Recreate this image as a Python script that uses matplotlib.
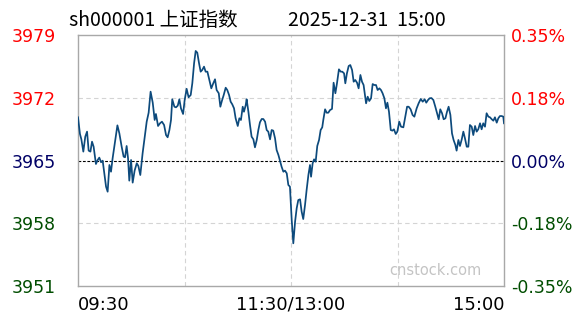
import matplotlib
matplotlib.use("Agg")
from matplotlib import pyplot as plt

# minutes since 09:30 (lunch break removed) and index level
minutes = [0, 1.1, 1.9, 3.0, 4.1, 5.1, 6.0, 7.0, 7.9, 8.8, 10.1, 11.1, 12.0, 13.0, 13.9, 14.8, 15.8, 16.7,
           17.7, 18.6, 19.5, 21.0, 22.2, 23.3, 24.6, 25.7, 26.5, 27.4, 28.2, 28.9, 29.9, 30.8, 31.9, 33.1,
           34.0, 35.1, 36.4, 37.6, 38.7, 39.8, 40.9, 42.1, 43.2, 43.9, 45.1, 46.2, 47.3, 48.5, 49.6, 50.5,
           51.5, 52.4, 53.1, 54.3, 55.2, 56.2, 57.1, 58.0, 59.2, 60.1, 61.2, 62.3, 63.5, 64.4, 65.4, 66.3,
           67.2, 68.2, 69.1, 70.0, 71.0, 71.9, 72.9, 74.0, 75.1, 76.2, 77.2, 78.1, 79.3, 80.2, 81.1, 82.1,
           83.2, 84.1, 85.1, 86.0, 86.9, 87.9, 88.8, 90.0, 90.9, 91.8, 92.8, 93.5, 94.5, 95.0, 96.0, 96.9,
           97.8, 98.8, 99.7, 100.7, 101.6, 102.5, 103.5, 104.4, 105.4, 106.3, 107.2, 108.2, 109.1, 110.0,
           111.0, 111.9, 112.9, 113.8, 114.7, 115.7, 116.6, 117.6, 118.5, 119.4, 120.4, 121.3, 122.3, 123.2,
           124.1, 125.1, 126.0, 126.9, 127.9, 128.8, 129.8, 130.7, 131.3, 132.2, 133.0, 133.9, 134.8, 135.8,
           136.7, 137.6, 138.2, 139.2, 140.1, 141.0, 142.0, 143.1, 144.0, 145.0, 145.9, 147.0, 148.0, 148.9,
           149.9, 150.6, 151.5, 152.5, 153.4, 154.4, 155.3, 156.2, 157.2, 158.1, 159.1, 160.0, 160.9, 162.3,
           163.2, 164.1, 165.1, 166.0, 166.9, 167.9, 168.8, 169.8, 170.7, 171.6, 172.6, 173.5, 174.3, 175.2,
           176.2, 177.1, 178.0, 179.0, 179.9, 181.0, 182.0, 183.3, 184.4, 185.4, 186.3, 187.4, 188.5, 189.5,
           190.8, 191.9, 193.1, 194.2, 195.3, 196.2, 197.2, 198.1, 199.1, 200.2, 201.3, 202.3, 203.2, 204.1,
           205.1, 206.0, 207.0, 207.9, 208.8, 209.8, 210.7, 211.6, 212.6, 213.3, 214.3, 215.2, 216.2, 217.1,
           218.0, 219.0, 219.9, 220.8, 221.8, 222.7, 223.7, 224.6, 225.5, 226.5, 227.4, 228.3, 229.3, 230.2,
           231.2, 232.1, 233.1, 234.0, 234.9, 235.9, 236.8, 237.7, 238.7, 239.6, 240]
prices = [3969.82, 3967.96, 3967.36, 3965.99, 3967.66, 3968.22, 3966.10, 3965.99, 3967.10, 3966.54, 3964.61,
          3965.06, 3965.32, 3964.80, 3964.98, 3963.64, 3962.08, 3961.52, 3964.50, 3963.75, 3965.24, 3967.29,
          3968.92, 3968.03, 3966.54, 3965.43, 3965.36, 3966.62, 3965.24, 3962.75, 3965.06, 3962.53, 3963.87,
          3964.69, 3964.39, 3963.38, 3965.80, 3967.66, 3969.33, 3970.33, 3972.68, 3971.45, 3969.52, 3970.19,
          3968.85, 3969.15, 3969.33, 3968.96, 3967.84, 3967.59, 3968.40, 3969.52, 3971.83, 3971.00, 3970.93,
          3971.12, 3971.83, 3970.82, 3970.19, 3971.75, 3973.00, 3972.05, 3972.31, 3973.61, 3975.84, 3977.22,
          3977.03, 3975.84, 3974.91, 3975.10, 3975.47, 3974.91, 3974.91, 3973.98, 3973.05, 3973.61, 3974.06,
          3972.86, 3972.50, 3971.00, 3971.67, 3972.31, 3973.12, 3972.86, 3972.31, 3971.56, 3971.27, 3970.82,
          3969.71, 3968.85, 3969.71, 3969.52, 3971.00, 3970.44, 3971.19, 3971.83, 3970.44, 3968.96, 3967.66,
          3967.36, 3966.47, 3967.29, 3968.40, 3969.26, 3969.63, 3969.63, 3969.33, 3968.40, 3968.22, 3967.36,
          3968.40, 3968.33, 3967.48, 3966.17, 3965.62, 3964.98, 3964.31, 3963.75, 3963.87, 3963.57, 3962.27,
          3962.08, 3958.36, 3955.76, 3958.18, 3959.67, 3960.59, 3960.67, 3959.29, 3958.47, 3960.04, 3961.71,
          3963.38, 3964.50, 3963.19, 3964.69, 3965.13, 3964.87, 3966.62, 3967.29, 3968.40, 3968.70, 3969.52,
          3970.71, 3970.33, 3970.33, 3970.63, 3970.75, 3973.68, 3972.50, 3973.61, 3975.17, 3974.91, 3974.91,
          3974.72, 3973.61, 3974.72, 3975.54, 3975.65, 3975.10, 3973.79, 3973.98, 3973.68, 3973.05, 3974.54,
          3973.79, 3973.42, 3971.38, 3972.12, 3971.64, 3971.94, 3973.53, 3973.42, 3973.42, 3972.86, 3973.05,
          3972.86, 3972.50, 3971.94, 3970.82, 3971.45, 3970.44, 3968.40, 3968.33, 3968.48, 3967.96, 3968.22,
          3969.33, 3968.77, 3968.70, 3969.89, 3971.00, 3971.00, 3970.71, 3970.08, 3969.89, 3970.82, 3971.38,
          3971.86, 3971.56, 3971.83, 3971.45, 3971.75, 3971.94, 3971.97, 3971.75, 3971.00, 3970.27, 3969.60,
          3970.71, 3970.27, 3969.60, 3969.71, 3970.44, 3971.00, 3970.08, 3968.03, 3967.29, 3966.73, 3966.10,
          3967.29, 3966.62, 3967.36, 3968.22, 3967.48, 3966.54, 3966.54, 3968.96, 3968.77, 3967.84, 3968.85,
          3968.22, 3968.48, 3969.15, 3968.48, 3969.15, 3968.77, 3970.27, 3969.89, 3969.82, 3969.60, 3969.44,
          3969.82, 3969.22, 3969.71, 3969.96, 3969.96, 3969.89, 3969.15]

prev_close = 3965
price_ticks = [3951, 3958, 3965, 3972, 3979]
price_labels = ["3951", "3958", "3965", "3972", "3979"]
pct_labels = ["-0.35%", "-0.18%", "0.00%", "0.18%", "0.35%"]
tick_colors = ["#004d00", "#004d00", "#000066", "#ff0000", "#ff0000"]
time_ticks = [0, 120, 240]
time_labels = ["09:30", "11:30/13:00", "15:00"]

fig = plt.figure(figsize=(5.88, 3.24), dpi=100)
ax = fig.add_axes([78 / 588, 1 - 286 / 324, 426 / 588, 251 / 324])

for v in [3958, 3972]:
    ax.axhline(v, color="#d4d4d4", lw=0.8, ls=(0, (4, 3)), zorder=1)
for v in [60, 120, 180]:
    ax.axvline(v, color="#d4d4d4", lw=0.8, ls=(0, (4, 3)), zorder=1)
ax.axhline(prev_close, color="black", lw=0.8, ls=(0, (2.5, 1.5)), zorder=2)

ax.plot(minutes, prices, color="#0d4a7c", lw=1.25, zorder=3)

ax.set_xlim(0, 240)
ax.set_ylim(3951, 3979)
for s in ax.spines.values():
    s.set_color("#a8a8a8")
    s.set_linewidth(1)

ax.set_yticks(price_ticks)
ax.set_yticklabels(price_labels, fontsize=12.5, fontfamily="DejaVu Sans")
ax.tick_params(axis="y", length=0, pad=48)
for lbl, c in zip(ax.get_yticklabels(), tick_colors):
    lbl.set_color(c)
    lbl.set_horizontalalignment("left")

ax2 = ax.twinx()
ax2.set_ylim(3951, 3979)
ax2.set_yticks(price_ticks)
ax2.set_yticklabels(pct_labels, fontsize=12.5, fontfamily="DejaVu Sans")
ax2.tick_params(axis="y", length=0, pad=5)
for lbl, c in zip(ax2.get_yticklabels(), tick_colors):
    lbl.set_color(c)
for s in ax2.spines.values():
    s.set_visible(False)

ax.set_xticks(time_ticks)
ax.set_xticklabels(time_labels, fontsize=13, fontfamily="DejaVu Sans")
ax.tick_params(axis="x", length=0, pad=7)
xl = ax.get_xticklabels()
xl[0].set_horizontalalignment("left")
xl[2].set_horizontalalignment("right")

ax.text(0.84, 0.062, "cnstock.com", transform=ax.transAxes, ha="center", va="center",
        fontsize=10.5, color="#c4c4c4", fontfamily="DejaVu Sans")

title_font = ["Noto Sans CJK SC", "DejaVu Sans"]
fig.text(69 / 588, 1 - 20 / 324, "sh000001 上证指数", ha="left", va="center",
         fontsize=14, family=title_font, color="black")
fig.text(288 / 588, 1 - 20 / 324, "2025-12-31  15:00", ha="left", va="center",
         fontsize=14, family=title_font, color="black")

fig.savefig("out.png", dpi=100, facecolor="white")
